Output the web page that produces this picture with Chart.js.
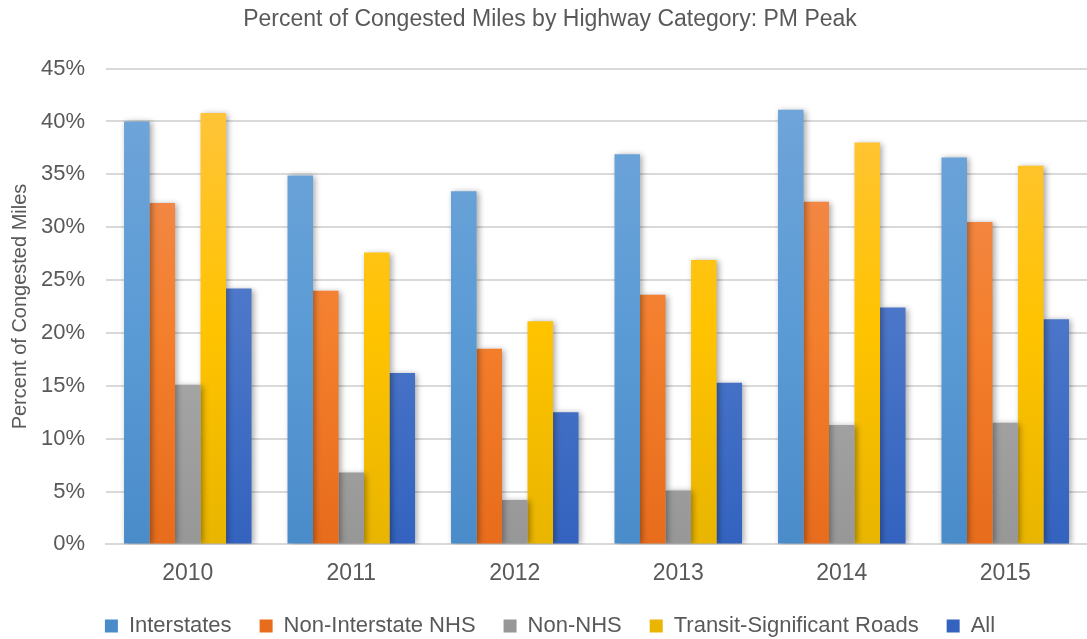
<!DOCTYPE html>
<html>
<head>
<meta charset="utf-8">
<script src="https://cdn.jsdelivr.net/npm/chart.js@4/dist/chart.umd.min.js"></script>
<style>
  html, body { margin: 0; padding: 0; background: #fff; }
  #wrap { width: 1087px; height: 639px; position: relative; }
</style>
</head>
<body>
<div id="wrap"><canvas id="chart"></canvas></div>
<script>
const years = ["2010", "2011", "2012", "2013", "2014", "2015"];
const interstates = [40.0, 34.9, 33.4, 36.9, 41.1, 36.6];
const nonInterstateNHS = [32.3, 24.0, 18.5, 23.6, 32.4, 30.5];
const nonNHS = [15.1, 6.8, 4.2, 5.1, 11.3, 11.5];
const transitRoads = [40.8, 27.6, 21.1, 26.9, 38.0, 35.8];
const allRoads = [24.2, 16.2, 12.5, 15.3, 22.4, 21.3];

const series = [
  { label: "Interstates", data: interstates, top: "#72a6da", mid: "#5b9bd5", bottom: "#4a8bca" },
  { label: "Non-Interstate NHS", data: nonInterstateNHS, top: "#f08e5a", mid: "#f47f2d", bottom: "#e76c1c" },
  { label: "Non-NHS", data: nonNHS, top: "#b3b3b3", mid: "#a8a8a8", bottom: "#979797" },
  { label: "Transit-Significant Roads", data: transitRoads, top: "#ffc443", mid: "#ffc300", bottom: "#e9b500" },
  { label: "All", data: allRoads, top: "#6585cf", mid: "#4a75c8", bottom: "#3363bf" }
];

const fontFam = "'Liberation Sans', 'Open Sans', sans-serif";
const LEGEND_H = 52;

function gradientFor(s) {
  return (ctx) => {
    const chart = ctx.chart;
    const area = chart.chartArea;
    if (!area) return s.mid;
    const g = chart.ctx.createLinearGradient(0, area.top, 0, area.bottom);
    g.addColorStop(0, s.top);
    g.addColorStop(0.55, s.mid);
    g.addColorStop(1, s.bottom);
    return g;
  };
}

const shadowPlugin = {
  id: "barShadow",
  beforeDatasetsDraw(chart) {
    chart.ctx.save();
    chart.ctx.shadowColor = "rgba(0,0,0,0.35)";
    chart.ctx.shadowBlur = 6;
    chart.ctx.shadowOffsetX = 2;
    chart.ctx.shadowOffsetY = 1;
  },
  afterDatasetsDraw(chart) {
    chart.ctx.restore();
  }
};

// legend needs wide gaps between items but little height
const legendHeight = {
  id: "legendHeight",
  beforeInit(chart) {
    const origFit = chart.legend.fit;
    chart.legend.fit = function () {
      origFit.call(this);
      this.height = LEGEND_H;
    };
  }
};

new Chart(document.getElementById("chart"), {
  type: "bar",
  data: {
    labels: years,
    datasets: series.map((s) => ({
      label: s.label,
      data: s.data,
      backgroundColor: gradientFor(s),
      borderWidth: 0,
      categoryPercentage: 0.78,
      barPercentage: 1.0
    }))
  },
  plugins: [shadowPlugin, legendHeight],
  options: {
    responsive: true,
    maintainAspectRatio: false,
    animation: false,
    layout: { padding: { left: 4, right: -9, top: 0, bottom: 0 } },
    plugins: {
      title: {
        display: true,
        text: "Percent of Congested Miles by Highway Category: PM Peak",
        color: "#595959",
        font: { family: fontFam, size: 23, weight: "normal" },
        padding: { top: 6, bottom: 35 }
      },
      legend: {
        position: "bottom",
        labels: {
          color: "#595959",
          font: { family: fontFam, size: 22 },
          boxWidth: 13,
          boxHeight: 13,
          padding: 28
        }
      },
      tooltip: { enabled: false }
    },
    scales: {
      x: {
        grid: { display: false },
        border: { color: "#d9d9d9", width: 2 },
        ticks: { color: "#595959", font: { family: fontFam, size: 23 }, padding: 7 },
        afterFit: (scale) => { scale.height -= 7; }
      },
      y: {
        min: 0,
        max: 45,
        ticks: {
          stepSize: 5,
          color: "#595959",
          font: { family: fontFam, size: 22 },
          padding: 21,
          callback: (v) => v + "%"
        },
        grid: { color: "#d9d9d9", lineWidth: 2, drawTicks: false },
        border: { display: false },
        title: {
          display: true,
          text: "Percent of Congested Miles",
          color: "#595959",
          font: { family: fontFam, size: 20 },
          padding: { top: 4, bottom: -12 }
        }
      }
    }
  }
});
</script>
</body>
</html>
